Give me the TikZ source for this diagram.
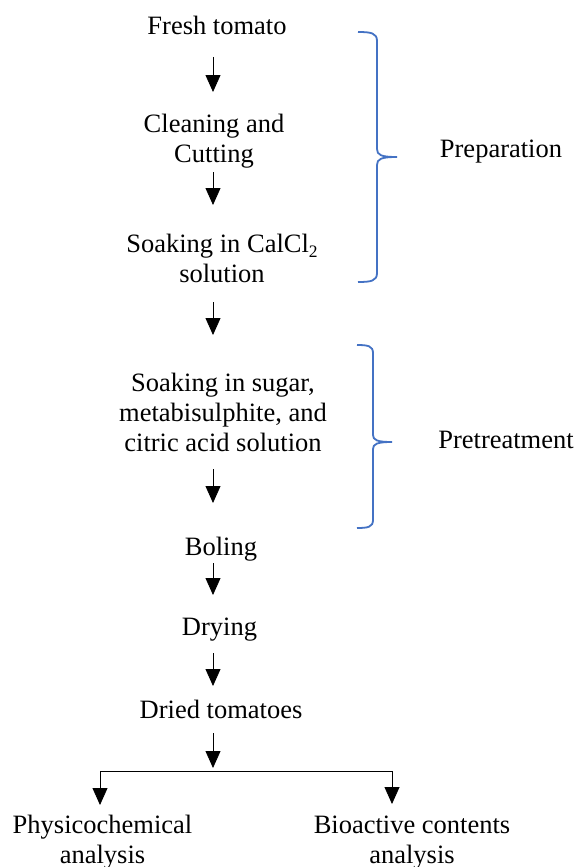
\documentclass[tikz,border=0pt]{standalone}
\usepackage{fontspec}
\setmainfont{Liberation Serif}
\usetikzlibrary{arrows.meta}
\definecolor{braceblue}{RGB}{68,114,196}
\newcommand{\lowtwo}{\raisebox{-5pt}{\fontsize{17.5}{17.5}\selectfont 2}}
\begin{document}
\begin{tikzpicture}[x=1pt,y=-1pt,
  lbl/.style={anchor=base,inner sep=0pt,align=center,font=\fontsize{26.5}{30}\selectfont},
  arr/.style={draw=black,line width=0.8pt,-{Triangle[width=15pt,length=17pt]}},
  link/.style={draw=black,line width=0.8pt},
  brace/.style={draw=braceblue,line width=1.8pt}]
\useasboundingbox (0,0) rectangle (575,867);
\fill[white] (0,0) rectangle (575,867);
% texts (base = baseline of the last line)
\node[lbl] (fresh) at (217,35) {Fresh tomato};
\node[lbl] (clean) at (214,162) {Cleaning and\\Cutting};
\node[lbl] (calcl) at (222,282) {Soaking in CalCl\lowtwo\\solution};
\node[lbl] (sugar) at (223,451) {Soaking in sugar,\\metabisulphite, and\\citric acid solution};
\node[lbl] (boil) at (221,555) {Boling};
\node[lbl] (dry) at (219.5,635) {Drying};
\node[lbl] (dried) at (221,718) {Dried tomatoes};
\node[lbl] (phys) at (102.5,863) {Physicochemical\\analysis};
\node[lbl] (bio) at (412,863) {Bioactive contents\\analysis};
\node[lbl] (prep) at (501,157) {Preparation};
\node[lbl] (pret) at (506,448) {Pretreatment};
% arrow end points
\coordinate (a1t) at (213,57);  \coordinate (a1b) at (213,92);
\coordinate (a2t) at (213,172); \coordinate (a2b) at (213,205);
\coordinate (a3t) at (213,302); \coordinate (a3b) at (213,335);
\coordinate (a4t) at (213,469); \coordinate (a4b) at (213,503);
\coordinate (a5t) at (213,563); \coordinate (a5b) at (213,595);
\coordinate (a6t) at (213,653); \coordinate (a6b) at (213,686);
\coordinate (a7t) at (213,733); \coordinate (a7b) at (213,768);
\coordinate (bl) at (100,771); \coordinate (br) at (392,771);
\coordinate (blb) at (100,805); \coordinate (brb) at (392,804);
\draw[arr] (a1t) -- (a1b);
\draw[arr] (a2t) -- (a2b);
\draw[arr] (a3t) -- (a3b);
\draw[arr] (a4t) -- (a4b);
\draw[arr] (a5t) -- (a5b);
\draw[arr] (a6t) -- (a6b);
\draw[arr] (a7t) -- (a7b);
\draw[link] (bl) -- (br);
\draw[arr] (bl) -- (blb);
\draw[arr] (br) -- (brb);
% braces
\draw[brace] (358,32) .. controls (371,32) and (377,33) .. (377,41) -- (377,149)
  .. controls (377,155) and (381,157) .. (397,157)
  .. controls (381,157) and (377,159) .. (377,165) -- (377,273)
  .. controls (377,281) and (371,282) .. (358,282);
\draw[brace] (357,345) .. controls (368,345) and (373,346) .. (373,353) -- (373,435)
  .. controls (373,440) and (377,442) .. (392,442)
  .. controls (377,442) and (373,444) .. (373,449) -- (373,520)
  .. controls (373,527) and (368,528) .. (357,528);
\end{tikzpicture}
\end{document}
